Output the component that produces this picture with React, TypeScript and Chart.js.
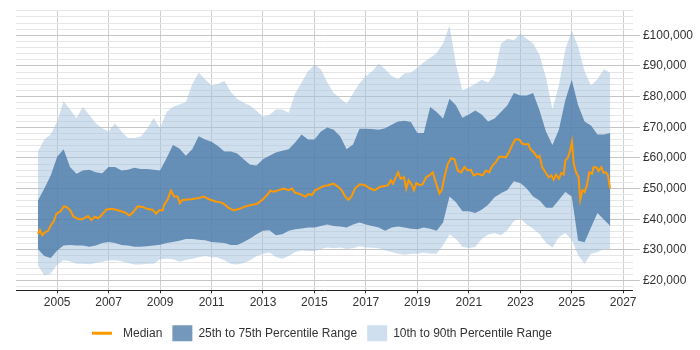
import { useEffect, useRef } from 'react';
import { Chart, registerables } from 'chart.js';

Chart.register(...registerables);

// Shared x positions (decimal years) for the percentile bands
const bandYears = [
  2004.25, 2004.5, 2004.75, 2005, 2005.25, 2005.5, 2005.75, 2006, 2006.25, 2006.5, 2006.75,
  2007, 2007.25, 2007.5, 2007.75, 2008, 2008.25, 2008.5, 2008.75, 2009, 2009.25, 2009.5, 2009.75,
  2010, 2010.25, 2010.5, 2010.75, 2011, 2011.25, 2011.5, 2011.75, 2012, 2012.25, 2012.5, 2012.75,
  2013, 2013.25, 2013.5, 2013.75, 2014, 2014.25, 2014.5, 2014.75, 2015, 2015.25, 2015.5, 2015.75,
  2016, 2016.25, 2016.5, 2016.75, 2017, 2017.25, 2017.5, 2017.75, 2018, 2018.25, 2018.5, 2018.75,
  2019, 2019.25, 2019.5, 2019.75, 2020, 2020.25, 2020.5, 2020.75, 2021, 2021.25, 2021.5, 2021.75,
  2022, 2022.25, 2022.5, 2022.75, 2023, 2023.25, 2023.5, 2023.75, 2024, 2024.25, 2024.5, 2024.75,
  2025, 2025.25, 2025.5, 2025.75, 2026, 2026.25, 2026.5,
];

const p90 = [
  62000, 66000, 67600, 71900, 78500, 75800, 73000, 76600, 74000, 71300, 69700,
  68600, 71300, 68600, 66500, 66500, 67000, 69500, 73000, 69700, 75000, 76600, 77400,
  78200, 84000, 87800, 85700, 83600, 84100, 85200, 81500, 79200, 78000, 77000, 75400,
  73500, 74000, 75800, 75800, 74700, 81000, 84600, 88300, 90400, 88900, 84600, 81200,
  79500, 77700, 81000, 84400, 86700, 88300, 90800, 88900, 86700, 85700, 87600, 87800,
  89400, 91200, 92600, 94200, 97300, 103200, 90500, 82000, 83000, 84100, 85500, 84600,
  87300, 97300, 98900, 98400, 100500, 98900, 97300, 93600, 86200, 75900, 83600, 95200,
  101600, 96300, 88300, 83600, 85700, 88900, 87800,
];

const p75 = [
  46000, 50000, 54300, 60400, 62800, 57000, 54800, 55900, 56100, 55300, 55000,
  57000, 57000, 55900, 56100, 56800, 56400, 56400, 56100, 55900, 59900, 64200, 63100,
  60700, 62800, 67100, 66000, 65300, 63900, 62100, 62100, 61400, 59600, 57800, 57500,
  59600, 60700, 61800, 62300, 62800, 65000, 67600, 66000, 66000, 68600, 69900, 69200,
  67100, 62800, 64400, 69500, 69500, 69400, 69200, 69700, 70800, 71900, 72100, 71700,
  68100, 68100, 76600, 75000, 72900, 79300, 77200, 73100, 74200, 75500, 74200, 71900,
  72900, 75000, 77200, 81200, 80400, 80400, 81200, 75500, 68600, 64200, 69200, 78800,
  85500, 77200, 71900, 70600, 67600, 67600, 68100,
];

const p25 = [
  30300, 28000, 27300, 29800, 31400, 31600, 31400, 31400, 31000, 31400, 32200,
  32600, 32200, 31600, 31400, 31000, 31000, 31200, 31400, 31700, 32200, 32600, 33000,
  33500, 33500, 33300, 33100, 32600, 32400, 32200, 31600, 31600, 32600, 33700, 35100,
  36200, 36400, 34800, 35100, 36200, 36700, 37000, 37300, 37300, 37800, 38300, 37800,
  37600, 37300, 38300, 38900, 38300, 37800, 37300, 36200, 37300, 37600, 37300, 36900,
  36700, 37300, 36900, 36200, 38900, 47400, 45500, 42600, 42600, 42000, 43100, 44700,
  47200, 48500, 49500, 52400, 51800, 50000, 47400, 46100, 43700, 43700, 46300, 48900,
  47400, 33000, 32500, 37300, 42000, 39900, 37800,
];

const p10 = [
  25000, 21600, 22300, 25200, 26600, 26300, 25500, 25500, 25300, 25700, 26100,
  26600, 26600, 26300, 25700, 25200, 25200, 25500, 25500, 26900, 27100, 26900, 26100,
  26700, 27100, 27600, 28000, 27600, 27500, 26600, 25500, 25200, 25700, 26600, 28000,
  28700, 29100, 27700, 27100, 28000, 29300, 29800, 29600, 29600, 30300, 30800, 30500,
  30800, 30300, 30500, 31200, 30800, 30700, 30500, 29800, 29300, 28700, 28400, 28700,
  28700, 29100, 28700, 28700, 31500, 35000, 33500, 31000, 30600, 30900, 33500, 35000,
  35500, 34800, 36500, 39400, 40300, 38300, 36900, 35200, 32300, 30800, 34100, 35500,
  33300, 28200, 25500, 28700, 29300, 30300, 30300,
];

// Median salary line (own x positions, decimal years)
const medianYears = [
  2004.25, 2004.33, 2004.42, 2004.52, 2004.65, 2004.74, 2004.87, 2004.97, 2005.13, 2005.26,
  2005.36, 2005.49, 2005.64, 2005.81, 2005.94, 2006.07, 2006.2, 2006.33, 2006.46, 2006.59,
  2006.71, 2006.91, 2007.1, 2007.29, 2007.49, 2007.68, 2007.81, 2007.94, 2008.13, 2008.32,
  2008.52, 2008.71, 2008.84, 2008.97, 2009.1, 2009.16, 2009.29, 2009.42, 2009.55, 2009.68,
  2009.77, 2009.87, 2010.2, 2010.45, 2010.71, 2010.9, 2011.16, 2011.36, 2011.48, 2011.68,
  2011.87, 2012.06, 2012.32, 2012.58, 2012.77, 2012.97, 2013.16, 2013.29, 2013.42, 2013.61,
  2013.81, 2014.0, 2014.13, 2014.25, 2014.45, 2014.64, 2014.77, 2014.9, 2015.03, 2015.16,
  2015.35, 2015.54, 2015.74, 2015.93, 2016.06, 2016.19, 2016.32, 2016.44, 2016.57, 2016.77,
  2016.96, 2017.16, 2017.35, 2017.54, 2017.73, 2017.86, 2017.97, 2018.05, 2018.18, 2018.25,
  2018.35, 2018.48, 2018.57, 2018.66, 2018.76, 2018.87, 2018.96, 2019.09, 2019.21, 2019.34,
  2019.47, 2019.6, 2019.73, 2019.86, 2019.95, 2020.05, 2020.18, 2020.31, 2020.44, 2020.57,
  2020.7, 2020.83, 2020.96, 2021.08, 2021.19, 2021.34, 2021.54, 2021.66, 2021.79, 2021.92,
  2022.05, 2022.18, 2022.31, 2022.44, 2022.57, 2022.7, 2022.8, 2022.96, 2023.08, 2023.21,
  2023.31, 2023.4, 2023.53, 2023.66, 2023.75, 2023.85, 2023.98, 2024.11, 2024.21, 2024.3,
  2024.39, 2024.5, 2024.6, 2024.69, 2024.75, 2024.86, 2024.95, 2025.01, 2025.08, 2025.17,
  2025.27, 2025.33, 2025.42, 2025.5, 2025.59, 2025.68, 2025.79, 2025.85, 2025.98, 2026.04,
  2026.15, 2026.24, 2026.33, 2026.41, 2026.49,
];

const medianValues = [
  35100, 36500, 34800, 35700, 36200, 37800, 39400, 41700, 42600, 44200,
  44000, 43100, 40800, 40100, 39900, 40400, 41000, 39700, 40800, 40300,
  41200, 43100, 43400, 43100, 42600, 42000, 41200, 42200, 44200, 44000,
  43300, 43100, 41800, 42900, 42900, 44700, 46300, 49300, 47400, 47400,
  45200, 46300, 46500, 46800, 47400, 46500, 45800, 45500, 45000, 43600,
  42900, 43300, 44200, 44700, 45000, 46300, 47900, 49300, 49000, 49500,
  50000, 49500, 50000, 48600, 48200, 47400, 48200, 47900, 49500, 50000,
  50800, 51100, 51600, 50500, 49500, 47400, 46300, 47400, 50000, 51400,
  51100, 50000, 49500, 50500, 50800, 51100, 52700, 51600, 54000, 55300,
  53200, 53700, 50000, 52700, 51600, 49500, 51800, 51100, 51400, 53700,
  54300, 55300, 51600, 48400, 49500, 53700, 58000, 59900, 59600, 55900,
  55300, 57000, 55900, 56100, 54300, 54800, 54300, 55900, 55300, 57500,
  58600, 60400, 60400, 60200, 62000, 64400, 66000, 66000, 64600, 64400,
  64600, 62800, 61800, 60200, 60700, 57000, 55300, 53700, 54300, 52900,
  54600, 53200, 55100, 54600, 59100, 60200, 62800, 65300, 58000, 55300,
  53700, 46300, 49500, 48900, 51100, 55300, 54800, 57000, 56800, 55700,
  57000, 55100, 55300, 54300, 50000,
];

const xTickYears = [2005, 2007, 2009, 2011, 2013, 2015, 2017, 2019, 2021, 2023, 2025, 2027];

const yGridValues = [
  18000, 20000, 22000, 24000, 26000, 28000, 30000, 32000, 34000, 36000, 38000,
  40000, 42000, 44000, 46000, 48000, 50000, 52000, 54000, 56000, 58000, 60000,
  62000, 64000, 66000, 68000, 70000, 72000, 74000, 76000, 78000, 80000, 82000,
  84000, 86000, 88000, 90000, 92000, 94000, 96000, 98000, 100000, 102000, 104000,
  106000, 108000,
];

const FONT = 'Arial, "Liberation Sans", sans-serif';
const LIGHT = 'rgba(161,191,221,0.5)';
const DARK = 'rgba(62,112,162,0.72)';
const ORANGE = '#ff9900';
const LEGEND_PAD = 10;
const LEGEND_BOX_H = 16;

const pts = (xs: number[], ys: number[]) => xs.map((x, i) => ({ x, y: ys[i] }));

// Centre the legend under the plot area and nudge it down a little;
// draw the median legend swatch as a short thick line.
const legendTweaksPlugin = {
  id: 'legendTweaks',
  afterLayout(chart: any) {
    const lg = chart.legend;
    const ca = chart.chartArea;
    if (!lg || !ca) return;
    lg.left = ca.left;
    lg.right = ca.right;
    lg.width = ca.right - ca.left;
    lg.top += 3.5;
    lg.bottom += 3.5;
  },
  afterDraw(chart: any) {
    const lg = chart.legend;
    if (!lg || !lg.legendHitBoxes || !lg.legendHitBoxes.length) return;
    const widths = lg.lineWidths || [0];
    const x0 = (lg.left + lg.right) / 2 - widths[0] / 2;
    const y = lg.top + LEGEND_PAD + LEGEND_BOX_H / 2;
    const ctx = chart.ctx;
    ctx.save();
    ctx.strokeStyle = ORANGE;
    ctx.lineWidth = 3;
    ctx.beginPath();
    ctx.moveTo(x0, y);
    ctx.lineTo(x0 + 20, y);
    ctx.stroke();
    ctx.restore();
  },
};

export default function App() {
  const ref = useRef<HTMLCanvasElement | null>(null);

  useEffect(() => {
    document.body.style.margin = '0';
    if (!ref.current) return;
    const isMajor = (v: number) => v % 10000 === 0;
    const chart = new Chart(ref.current, {
      type: 'line',
      plugins: [legendTweaksPlugin],
      data: {
        datasets: [
          {
            label: 'Median',
            data: pts(medianYears, medianValues),
            borderColor: ORANGE,
            backgroundColor: ORANGE,
            borderWidth: 2,
            pointRadius: 0,
            fill: false,
          },
          {
            label: '25th to 75th Percentile Range',
            data: pts(bandYears, p75),
            borderWidth: 0,
            borderColor: 'rgba(0,0,0,0)',
            backgroundColor: DARK,
            pointRadius: 0,
            fill: '+1',
          },
          {
            label: 'p25',
            data: pts(bandYears, p25),
            borderWidth: 0,
            borderColor: 'rgba(0,0,0,0)',
            backgroundColor: DARK,
            pointRadius: 0,
            fill: false,
          },
          {
            label: '10th to 90th Percentile Range',
            data: pts(bandYears, p90),
            borderWidth: 0,
            borderColor: 'rgba(0,0,0,0)',
            backgroundColor: LIGHT,
            pointRadius: 0,
            fill: '+1',
          },
          {
            label: 'p10',
            data: pts(bandYears, p10),
            borderWidth: 0,
            borderColor: 'rgba(0,0,0,0)',
            backgroundColor: LIGHT,
            pointRadius: 0,
            fill: false,
          },
        ],
      },
      options: {
        animation: false,
        responsive: true,
        maintainAspectRatio: false,
        layout: { padding: { left: 16, top: 5, right: 4, bottom: 2.3 } },
        font: { family: FONT },
        plugins: {
          tooltip: { enabled: false },
          legend: {
            position: 'bottom',
            labels: {
              boxWidth: 20,
              boxHeight: LEGEND_BOX_H,
              padding: LEGEND_PAD,
              color: '#333',
              font: { size: 12, family: FONT },
              generateLabels: (c: any) => {
                const items = Chart.defaults.plugins.legend.labels.generateLabels(c);
                return items
                  .filter((it: any) => it.datasetIndex === 0 || it.datasetIndex === 1 || it.datasetIndex === 3)
                  .map((it: any) => {
                    if (it.datasetIndex === 0) {
                      it.fillStyle = 'rgba(0,0,0,0)';
                      it.strokeStyle = 'rgba(0,0,0,0)';
                    }
                    it.lineWidth = 0;
                    return it;
                  });
              },
            },
          },
        },
        scales: {
          x: {
            type: 'linear',
            min: 2003.4,
            max: 2027.38,
            afterBuildTicks: (s: any) => {
              s.ticks = xTickYears.map((v) => ({ value: v }));
            },
            ticks: {
              autoSkip: false,
              maxRotation: 0,
              padding: 2,
              color: '#333',
              font: { size: 12, family: FONT },
              callback: (v: any) => String(v),
            },
            grid: { color: '#cfcfcf', tickColor: '#333', tickLength: 3 },
            border: { color: '#222', width: 1 },
          },
          y: {
            type: 'linear',
            position: 'right',
            min: 16800,
            max: 108200,
            afterBuildTicks: (s: any) => {
              s.ticks = yGridValues.map((v) => ({ value: v }));
            },
            ticks: {
              autoSkip: false,
              padding: 3,
              color: '#333',
              font: { size: 12, family: FONT },
              callback: (v: any) => (isMajor(Number(v)) ? '£' + Number(v).toLocaleString('en-GB') : ''),
            },
            grid: {
              color: (ctx: any) => (ctx.tick && isMajor(ctx.tick.value) ? '#c6c6c6' : '#e6e6e6'),
              tickColor: (ctx: any) => (ctx.tick && isMajor(ctx.tick.value) ? '#c6c6c6' : 'rgba(0,0,0,0)'),
              tickLength: 7,
            },
            border: { display: false },
          },
        },
      },
    } as any);
    return () => chart.destroy();
  }, []);

  return (
    <div style={{ width: 700, height: 350, position: 'relative' }}>
      <canvas ref={ref} />
    </div>
  );
}
